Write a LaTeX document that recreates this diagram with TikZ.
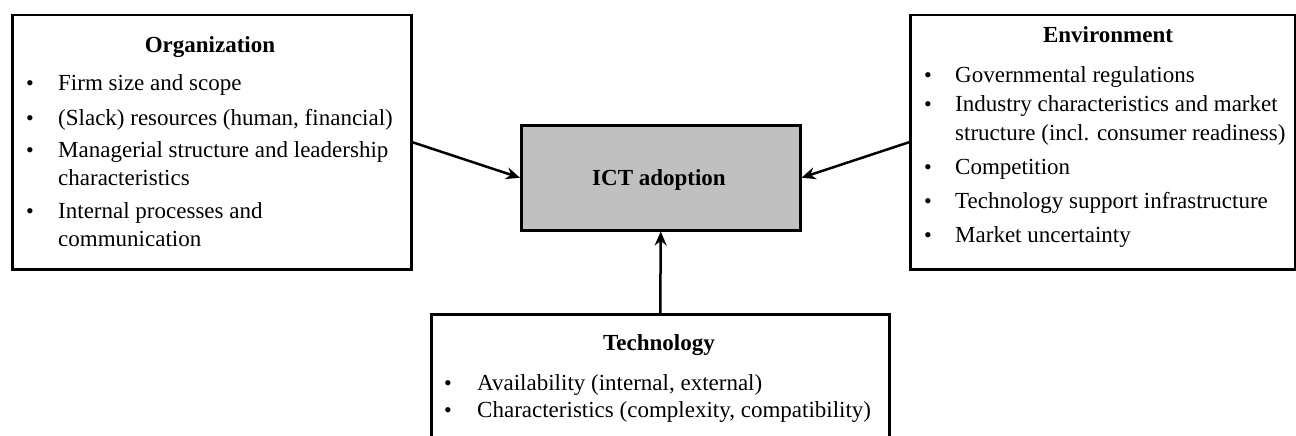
\documentclass[tikz,border=0pt]{standalone}
\usepackage{fontspec}
\setmainfont{Liberation Serif}
\usetikzlibrary{arrows.meta}
\tikzset{
  box/.style={draw=black, line width=2.5pt, rectangle, inner sep=0pt, anchor=north west},
  ictbox/.style={box, fill=ictgray},
  itemtxt/.style={anchor=base west, inner sep=0pt, font=\fontsize{23}{27}\selectfont},
  bul/.style={anchor=base, inner sep=0pt, font=\fontsize{22}{26}\selectfont},
  ttl/.style={anchor=base, inner sep=0pt, font=\fontsize{23}{27}\selectfont\bfseries},
  conn/.style={line width=2.5pt, -{Stealth[length=14pt,width=12pt]}}
}
\definecolor{ictgray}{RGB}{192,192,192}
\begin{document}
\begin{tikzpicture}[x=1pt,y=-1pt]
\useasboundingbox (0,0) rectangle (1296,436);
\clip (0,0) rectangle (1296,436);
% boxes
\node[box, minimum width=399pt, minimum height=254pt] (org) at (11,14) {};
\node[box, minimum width=385pt, minimum height=254pt] (env) at (909,14) {};
\node[box, minimum width=458pt, minimum height=160pt] (tech) at (430,313) {};
\node[ictbox, minimum width=279pt, minimum height=105pt] (ict) at (520,124) {};
\node[ttl] (ictt) at (659,185) {ICT adoption};
% Organization
\node[ttl] (orgt) at (210,53) {Organization};
\node[bul] (ob1) at (30,91) {•};
\node[itemtxt] (oi1) at (58,91) {Firm size and scope};
\node[bul] (ob2) at (30,125) {•};
\node[itemtxt] (oi2) at (58,125) {(Slack) resources (human, financial)};
\node[bul] (ob3) at (30,157) {•};
\node[itemtxt] (oi3) at (58,157) {Managerial structure and leadership};
\node[itemtxt] (oi3b) at (58,185) {characteristics};
\node[bul] (ob4) at (30,218) {•};
\node[itemtxt] (oi4) at (58,218) {Internal processes and};
\node[itemtxt] (oi4b) at (58,246) {communication};
% Environment
\node[ttl] (envt) at (1108,43) {Environment};
\node[bul] (eb1) at (928,82) {•};
\node[itemtxt] (ei1) at (955,82) {Governmental regulations};
\node[bul] (eb2) at (928,111) {•};
\node[itemtxt] (ei2) at (955,111) {Industry characteristics and market};
\node[itemtxt] (ei2b) at (955,140) {structure (incl. consumer readiness)};
\node[bul] (eb3) at (928,174) {•};
\node[itemtxt] (ei3) at (955,174) {Competition};
\node[bul] (eb4) at (928,208) {•};
\node[itemtxt] (ei4) at (955,208) {Technology support infrastructure};
\node[bul] (eb5) at (928,242) {•};
\node[itemtxt] (ei5) at (955,242) {Market uncertainty};
% Technology
\node[ttl] (techt) at (659,350) {Technology};
\node[bul] (tb1) at (448,390) {•};
\node[itemtxt] (ti1) at (477,390) {Availability (internal, external)};
\node[bul] (tb2) at (448,417) {•};
\node[itemtxt] (ti2) at (477,417) {Characteristics (complexity, compatibility)};
% connectors
\draw[conn] (org.east) -- (ict.west);
\draw[conn] (env.west) -- (ict.east);
\draw[conn] (tech.north) -- (ict.south);
\end{tikzpicture}
\end{document}
